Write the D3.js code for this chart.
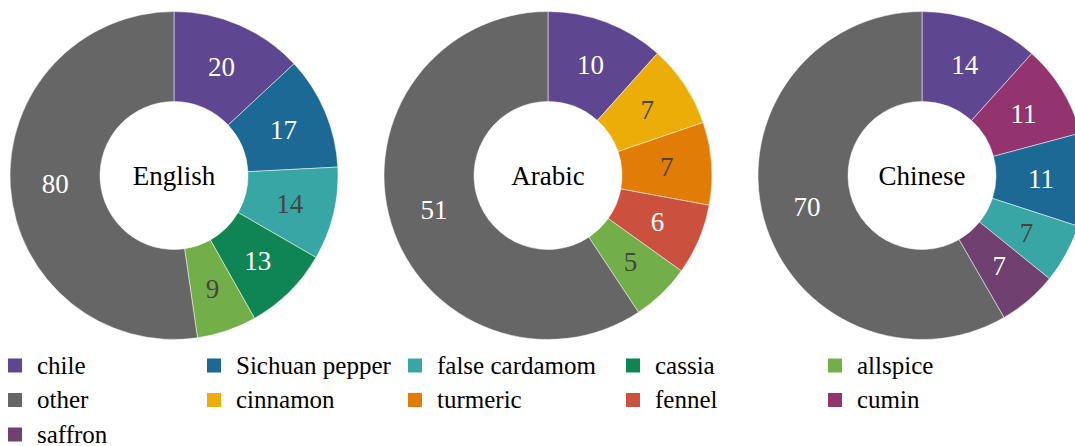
<!DOCTYPE html>
<html>
<head>
<meta charset="utf-8">
<script src="https://cdn.jsdelivr.net/npm/d3@7"></script>
</head>
<body style="margin:0">
<svg id="chart" width="1075" height="446"></svg>
<script>
// spice categories, legend order
const spices = ["chile", "Sichuan pepper", "false cardamom", "cassia", "allspice",
                "other", "cinnamon", "turmeric", "fennel", "cumin", "saffron"];
const spiceColors = ["#5F4690", "#1D6996", "#38A6A5", "#0F8554", "#73AF48",
                     "#666666", "#EDAD08", "#E17C05", "#CC503E", "#94346E", "#6F4070"];

// one donut per language
const languages = ["English", "Arabic", "Chinese"];
const englishSpices = ["chile", "Sichuan pepper", "false cardamom", "cassia", "allspice", "other"];
const englishCounts = [20, 17, 14, 13, 9, 80];
const arabicSpices  = ["chile", "cinnamon", "turmeric", "fennel", "allspice", "other"];
const arabicCounts  = [10, 7, 7, 6, 5, 51];
const chineseSpices = ["chile", "cumin", "Sichuan pepper", "false cardamom", "saffron", "other"];
const chineseCounts = [14, 11, 11, 7, 7, 70];

// light slices get dark labels
const lightSpices = ["false cardamom", "allspice", "cinnamon", "turmeric"];

const series = [
  englishSpices.map((s, i) => ({spice: s, value: englishCounts[i]})),
  arabicSpices.map((s, i) => ({spice: s, value: arabicCounts[i]})),
  chineseSpices.map((s, i) => ({spice: s, value: chineseCounts[i]}))
];

const color = d3.scaleOrdinal().domain(spices).range(spiceColors);

const svg = d3.select("#chart");

// layout
const outerR = 164, innerR = 74;
const cx = d3.scalePoint().domain(languages).range([174, 922]);
const cy = 175.5;
const labelSize = 27, legendSize = 25;

const pie = d3.pie().sort(null).value(d => d.value);
const arc = d3.arc().innerRadius(innerR).outerRadius(outerR);

// slices first, text on top afterwards
const labels = [];
languages.forEach((lang, li) => {
  const x0 = cx(lang);
  const arcs = pie(series[li]);

  svg.append("g")
    .attr("transform", "translate(" + x0 + "," + cy + ")")
    .selectAll("path")
    .data(arcs)
    .enter().append("path")
    .attr("d", arc)
    .attr("fill", d => color(d.data.spice))
    .attr("stroke", "#fff")
    .attr("stroke-width", 0.5);

  arcs.forEach(d => {
    const c = arc.centroid(d);
    labels.push({
      x: x0 + c[0], y: cy + c[1] + labelSize * 0.35, size: labelSize, anchor: "middle",
      fill: lightSpices.includes(d.data.spice) ? "#444" : "#fff",
      text: String(d.data.value)
    });
  });
  labels.push({x: x0, y: cy + labelSize * 0.35, size: labelSize, anchor: "middle", fill: "#000", text: lang});
});

// legend: 5 columns, row major
const colX = [8, 207, 408, 626, 828];
const rowY = i => 365.5 + Math.floor(i / 5) * 34.5;

svg.selectAll("rect.key")
  .data(spices)
  .enter().append("rect")
  .attr("class", "key")
  .attr("x", (d, i) => colX[i % 5])
  .attr("y", (d, i) => rowY(i) - 7)
  .attr("width", 14)
  .attr("height", 14)
  .attr("fill", d => color(d));

spices.forEach((s, i) => {
  labels.push({x: colX[i % 5] + 29, y: rowY(i) + legendSize * 0.33, size: legendSize, anchor: "start", fill: "#000", text: s});
});

svg.selectAll("text")
  .data(labels)
  .enter().append("text")
  .attr("x", d => d.x)
  .attr("y", d => d.y)
  .attr("font-size", d => d.size)
  .attr("text-anchor", d => d.anchor)
  .attr("fill", d => d.fill)
  .style("font-family", d => "'Liberation Serif'")
  .text(d => d.text);
</script>
</body>
</html>
